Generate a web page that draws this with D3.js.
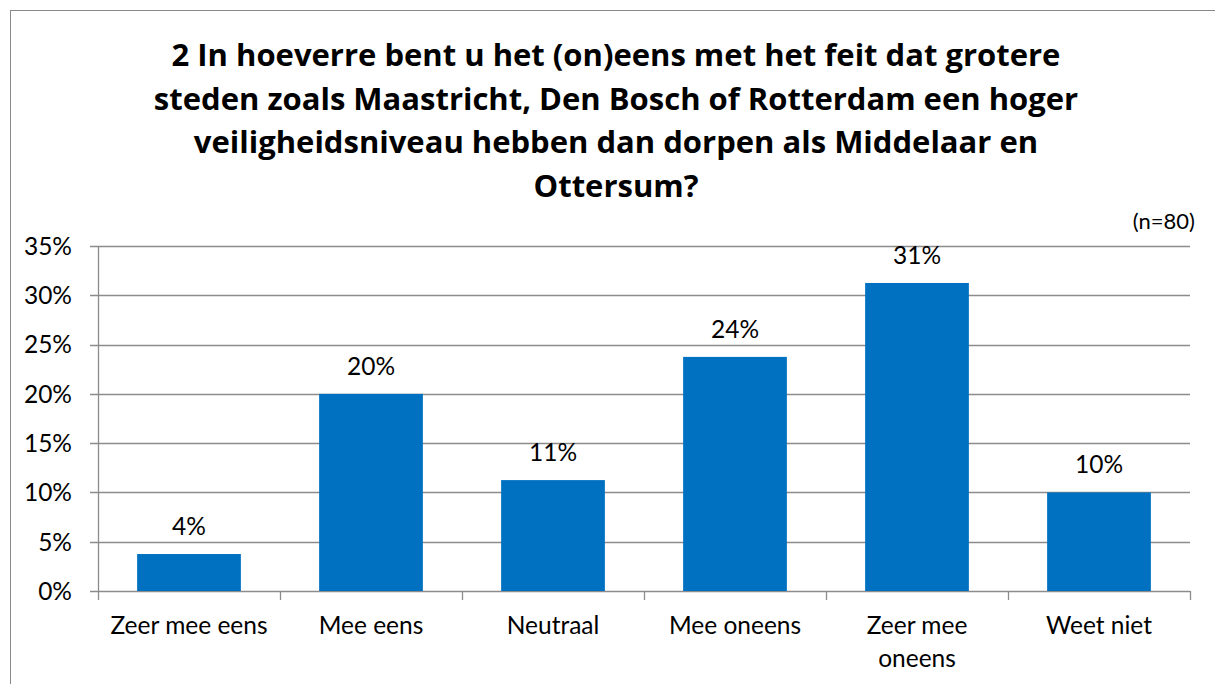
<!DOCTYPE html>
<html>
<head>
<meta charset="utf-8">
<script src="https://cdn.jsdelivr.net/npm/d3@7"></script>
<style>
  body { margin: 0; background: #fff; }
  svg text { font-family: Lato, "Open Sans", sans-serif; fill: #000; }
  svg text.title { font-family: "Open Sans", Lato, sans-serif; }
</style>
</head>
<body>
<svg id="chart"></svg>
<script>
// data
const categories = [["Zeer mee eens"], ["Mee eens"], ["Neutraal"], ["Mee oneens"], ["Zeer mee", "oneens"], ["Weet niet"]];
const values     = [3.75, 20, 11.25, 23.75, 31.25, 10];
const labels     = ["4%", "20%", "11%", "24%", "31%", "10%"];
const yTicks     = [0, 5, 10, 15, 20, 25, 30, 35];
const titleLines = [
  "2 In hoeverre bent u het (on)eens met het feit dat grotere",
  "steden zoals Maastricht, Den Bosch of Rotterdam een hoger",
  "veiligheidsniveau hebben dan dorpen als Middelaar en",
  "Ottersum?"
];

const width = 1215, height = 684;
const svg = d3.select("#chart").attr("width", width).attr("height", height);

// outer frame
svg.append("rect")
  .attr("x", 10.5).attr("y", 10.5)
  .attr("width", 1220).attr("height", 700)
  .attr("fill", "none").attr("stroke", "#888").attr("stroke-width", 1);

const plotL = 98, plotR = 1190, plotT = 246, plotB = 591;

const x = d3.scaleBand()
  .domain(d3.range(categories.length))
  .range([plotL, plotR])
  .paddingInner(0.43).paddingOuter(0.215);

const y = d3.scaleLinear().domain([0, 35]).range([plotB, plotT]);

// gridlines
svg.append("g").selectAll("line")
  .data(yTicks)
  .join("line")
    .attr("x1", plotL - 8).attr("x2", plotR)
    .attr("y1", d => Math.round(y(d)) + 0.5)
    .attr("y2", d => Math.round(y(d)) + 0.5)
    .attr("stroke", "#8c8c8c").attr("stroke-width", 1.3);

// y axis line
svg.append("line")
  .attr("x1", plotL + 0.5).attr("x2", plotL + 0.5)
  .attr("y1", plotT).attr("y2", plotB)
  .attr("stroke", "#8c8c8c").attr("stroke-width", 1.3);

// x tick marks
const step = x.step();
svg.append("g").selectAll("line")
  .data(d3.range(categories.length + 1))
  .join("line")
    .attr("x1", d => Math.round(plotL + d * step) + 0.5)
    .attr("x2", d => Math.round(plotL + d * step) + 0.5)
    .attr("y1", plotB).attr("y2", plotB + 9)
    .attr("stroke", "#8c8c8c").attr("stroke-width", 1.3);

// y tick labels
svg.append("g").selectAll("text")
  .data(yTicks)
  .join("text")
    .attr("x", 72).attr("y", d => y(d))
    .attr("dy", "0.36em")
    .attr("text-anchor", "end")
    .attr("font-size", 24.5)
    .text(d => d + "%");

// bars
svg.append("g").selectAll("rect")
  .data(values)
  .join("rect")
    .attr("x", (d, i) => x(i))
    .attr("width", x.bandwidth())
    .attr("y", d => y(d))
    .attr("height", d => y(0) - y(d))
    .attr("fill", "#0070c0");

// value labels
svg.append("g").selectAll("text")
  .data(values)
  .join("text")
    .attr("x", (d, i) => x(i) + x.bandwidth() / 2)
    .attr("y", d => y(d) - 19)
    .attr("text-anchor", "middle")
    .attr("font-size", 24.5)
    .text((d, i) => labels[i]);

// category labels
svg.append("g").selectAll("text")
  .data(categories)
  .join("text")
    .attr("text-anchor", "middle")
    .attr("font-size", 24.5)
    .attr("y", 634)
    .each(function(lines, i) {
      d3.select(this).selectAll("tspan")
        .data(lines)
        .join("tspan")
          .attr("x", x(i) + x.bandwidth() / 2)
          .attr("dy", (l, j) => j ? 33 : 0)
          .text(l => l);
    });

// title
svg.append("text")
  .attr("class", "title")
  .attr("text-anchor", "middle")
  .attr("font-size", 31)
  .attr("font-weight", "bold")
  .attr("y", 66)
  .selectAll("tspan")
  .data(titleLines)
  .join("tspan")
    .attr("x", 616)
    .attr("dy", (l, j) => j ? 43.7 : 0)
    .text(l => l);

// sample size note
svg.append("text")
  .attr("x", 1195).attr("y", 229)
  .attr("text-anchor", "end")
  .attr("font-size", 22)
  .text("(n=80)");
</script>
</body>
</html>
